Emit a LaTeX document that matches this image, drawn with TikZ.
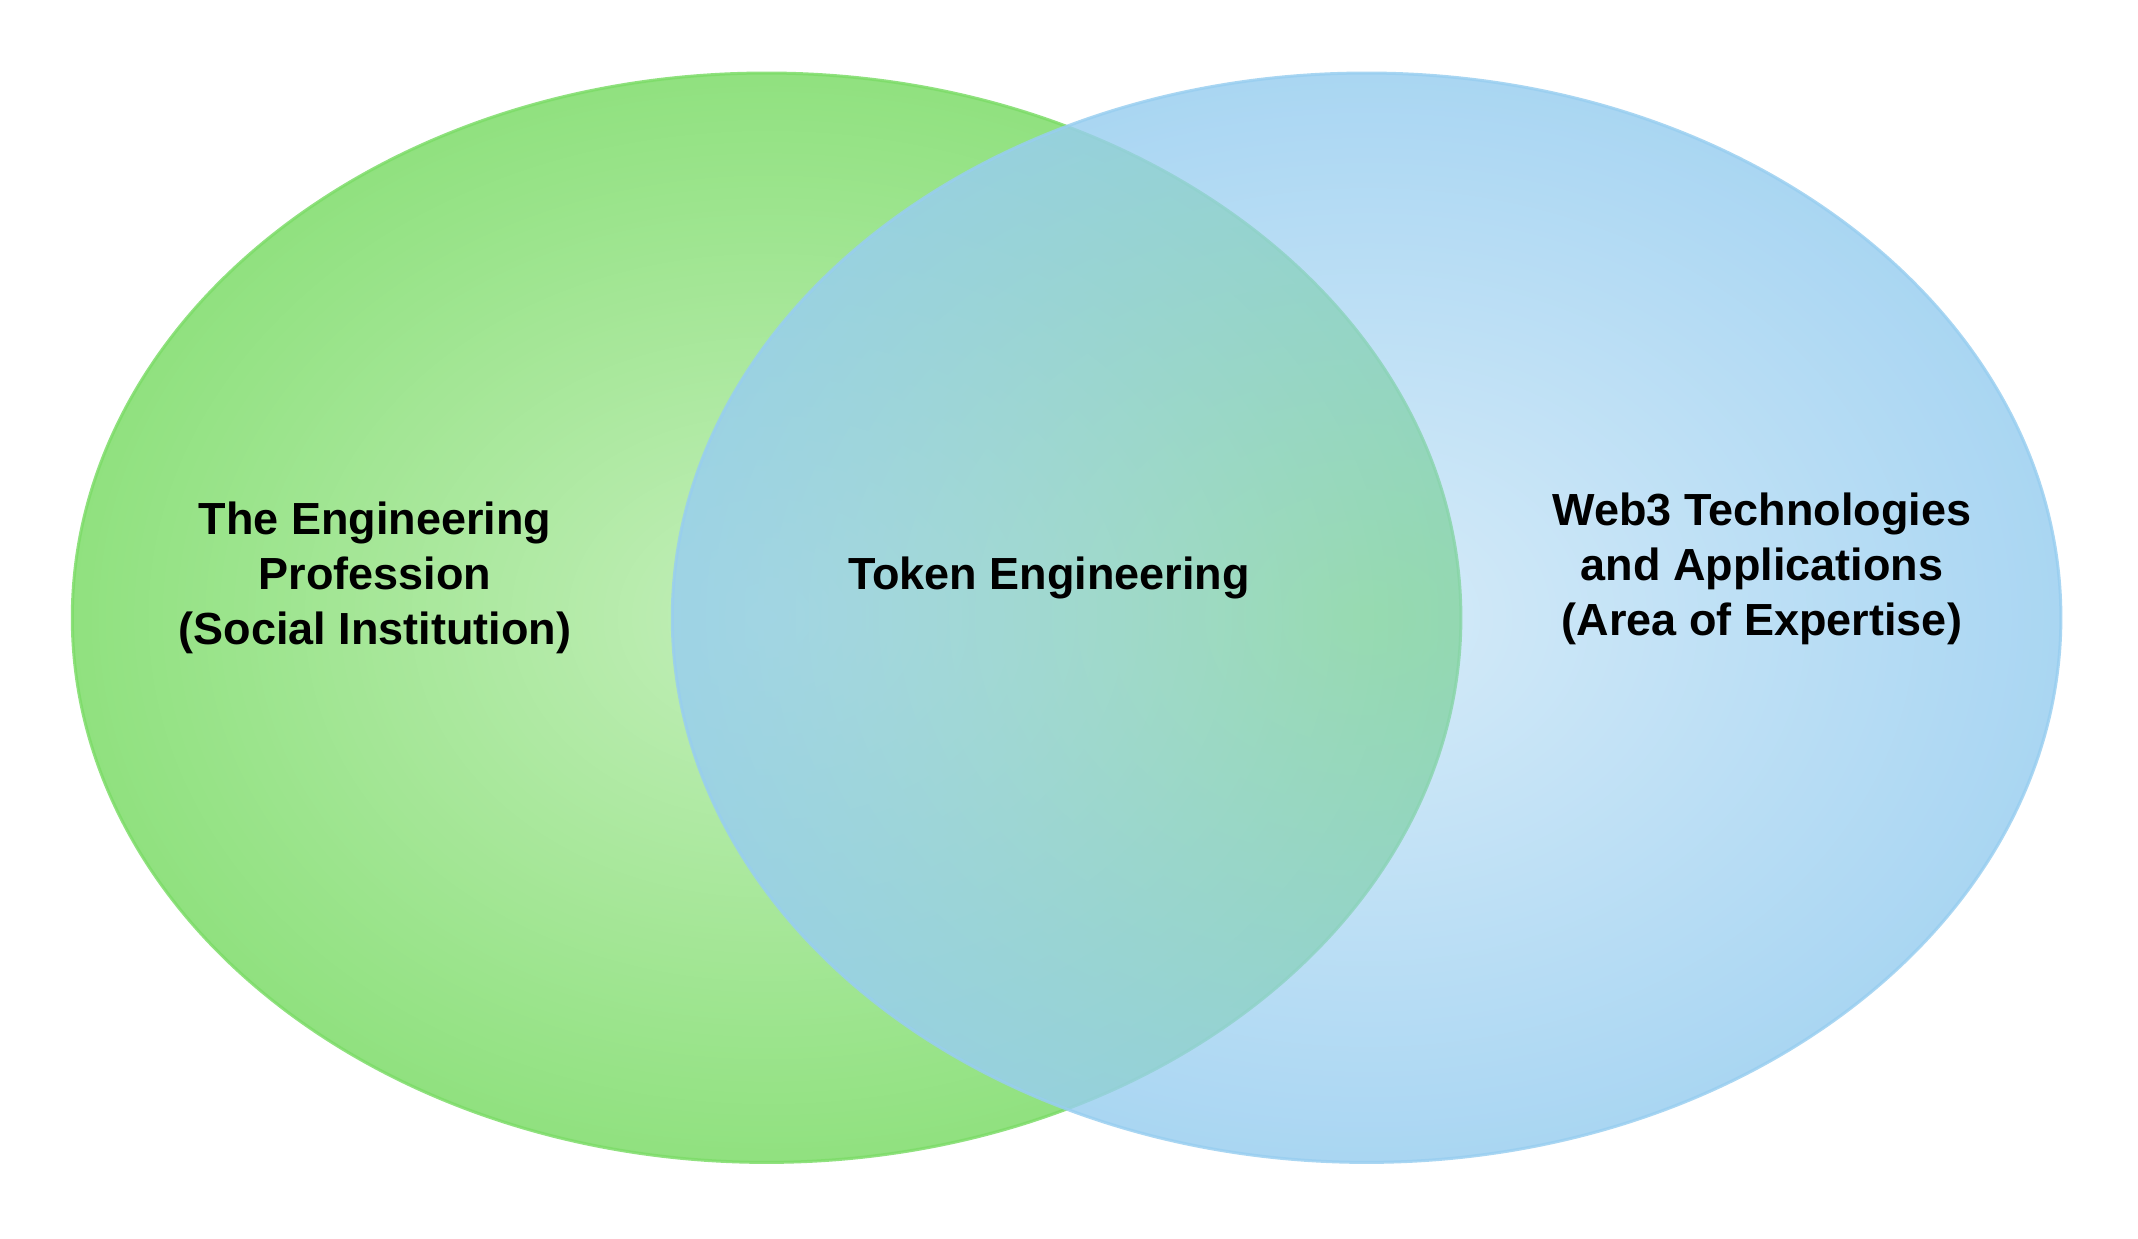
\documentclass[tikz,border=0pt]{standalone}
\usepackage{fontspec}
\setmainfont{Liberation Sans}
\usetikzlibrary{fadings}

\definecolor{vennGreen}{RGB}{124,220,104}
\definecolor{vennBlue}{RGB}{152,206,240}

% radial opacity masks: light in the middle, full colour at the rim
\pgfdeclareradialshading{greenmask}{\pgfpoint{0bp}{0bp}}{color(0bp)=(black!54); color(35bp)=(white); color(50bp)=(white)}
\pgfdeclareradialshading{bluemask}{\pgfpoint{0bp}{0bp}}{color(0bp)=(black!60); color(35bp)=(white); color(50bp)=(white)}
\tikzfading[name=greenfade, shading=greenmask]
\tikzfading[name=bluefade, shading=bluemask]

\begin{document}
\begin{tikzpicture}[x=0.5pt, y=-0.5pt,
  vennlabel/.style={font=\bfseries\fontsize{22.5}{27.5}\selectfont, align=center, text=black},
  setfill/.style={line width=1.5pt}]
\useasboundingbox (0,0) rectangle (2138,1238);
\fill[white] (0,0) rectangle (2138,1238);

% the two sets
\path[setfill, fill=vennGreen, draw=vennGreen, path fading=greenfade]
  (768,617) ellipse [x radius=347.5pt, y radius=272.5pt];
\path[setfill, fill=vennBlue, draw=vennBlue, path fading=bluefade]
  (1368,617) ellipse [x radius=347.5pt, y radius=272.5pt];

% labels
\node[vennlabel] (prof) at (375,578) {The Engineering\\Profession\\(Social Institution)};
\node[vennlabel] (token) at (1049,578) {Token Engineering};
\node[vennlabel] (web3) at (1762,569) {Web3 Technologies\\and Applications\\(Area of Expertise)};
\end{tikzpicture}
\end{document}
